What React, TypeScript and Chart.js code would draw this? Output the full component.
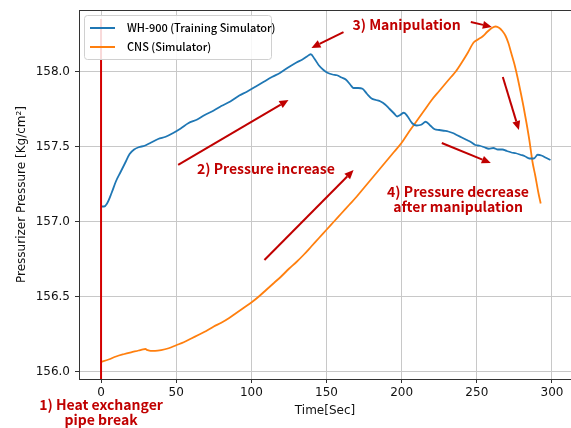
import { useEffect, useRef } from "react";
import { Chart, registerables } from "chart.js";

Chart.register(...registerables);

// ---------- data ----------
const seriesNames = ["WH-900 (Training Simulator)", "CNS (Simulator)"];

const timeBlue = [
  0, 2, 4, 7, 10, 13, 16, 19, 22, 25, 29, 33, 38, 43, 48, 53, 58, 64, 69, 75,
  80, 86, 92, 97, 103, 108, 114, 119, 125, 130, 134, 137, 139.5, 142, 145, 148,
  151, 154, 157, 160, 163, 166, 168, 171, 174, 177, 180, 183, 186, 189, 192,
  195, 197, 199, 201.5, 204, 207, 210, 213, 216, 219, 222, 225, 228, 231, 234,
  237, 240, 243, 246, 249, 252, 255, 258, 261, 264, 267, 270, 273, 276, 279,
  282, 285, 288, 290.5, 293, 296, 299,
];
const pressureBlue = [
  157.1, 157.1, 157.12, 157.19, 157.27, 157.33, 157.39, 157.45, 157.48, 157.495,
  157.505, 157.525, 157.55, 157.565, 157.59, 157.62, 157.655, 157.68, 157.71,
  157.74, 157.77, 157.8, 157.84, 157.865, 157.9, 157.93, 157.965, 157.99,
  158.03, 158.06, 158.08, 158.1, 158.115, 158.085, 158.04, 158.01, 157.99,
  157.98, 157.975, 157.96, 157.945, 157.91, 157.89, 157.89, 157.885, 157.85,
  157.82, 157.81, 157.8, 157.78, 157.75, 157.72, 157.7, 157.71, 157.725, 157.7,
  157.655, 157.64, 157.645, 157.665, 157.64, 157.615, 157.61, 157.605, 157.6,
  157.59, 157.575, 157.56, 157.545, 157.53, 157.51, 157.505, 157.495, 157.485,
  157.49, 157.48, 157.48, 157.47, 157.46, 157.455, 157.445, 157.435, 157.42,
  157.42, 157.445, 157.44, 157.425, 157.41,
];

const timeOrange = [
  0, 5, 10, 15, 20, 25, 28, 29.5, 31, 33, 36, 40, 45, 50, 55, 60, 65, 70, 75,
  80, 85, 90, 95, 100, 105, 110, 115, 120, 125, 130, 135, 140, 145, 150, 155,
  160, 165, 170, 175, 180, 185, 190, 195, 200, 205, 210, 215, 220, 225, 230,
  233, 236, 240, 244, 248, 251, 254, 257, 260, 262.5, 265, 267, 269, 271, 273,
  275, 277, 279, 281, 283, 285, 287, 289, 291, 292.5,
];
const pressureOrange = [
  156.065, 156.08, 156.1, 156.115, 156.128, 156.14, 156.148, 156.15, 156.142,
  156.137, 156.137, 156.142, 156.155, 156.175, 156.195, 156.22, 156.245, 156.27,
  156.3, 156.325, 156.355, 156.39, 156.425, 156.46, 156.5, 156.545, 156.59,
  156.635, 156.685, 156.73, 156.78, 156.835, 156.89, 156.945, 157.0, 157.055,
  157.11, 157.165, 157.225, 157.285, 157.345, 157.405, 157.465, 157.525, 157.6,
  157.67, 157.74, 157.81, 157.87, 157.93, 157.965, 158.0, 158.06, 158.125,
  158.195, 158.215, 158.235, 158.265, 158.29, 158.3, 158.29, 158.27, 158.24,
  158.19, 158.12, 158.05, 157.965, 157.87, 157.77, 157.66, 157.54, 157.4, 157.3,
  157.19, 157.12,
];

const breakTime = [0, 0];
const breakPressure = [155.95, 158.35];

const xTicks = [0, 50, 100, 150, 200, 250, 300];
const yTicks = [156.0, 156.5, 157.0, 157.5, 158.0];

const xLabel = "Time[Sec]";
const yLabel = "Pressurizer Pressure [Kg/cm²]";

// annotations in data coordinates
const noteTexts = [
  ["1) Heat exchanger", "pipe break"],
  ["2) Pressure increase"],
  ["3) Manipulation"],
  ["4) Pressure decrease", "after manipulation"],
];
const noteX = [0, 109.7, 203.3, 237.5];
const noteY = [155.78, 157.35, 158.31, 157.2];

const arrowFrom = [
  [51.3, 157.377],
  [108.7, 156.743],
  [161.3, 158.263],
  [246, 158.33],
  [267.3, 157.963],
  [226.7, 157.523],
];
const arrowTo = [
  [124.7, 157.81],
  [168, 157.343],
  [140, 158.157],
  [260, 158.297],
  [278, 157.61],
  [259.3, 157.39],
];

// ---------- styles ----------
const BLUE = "#1f77b4";
const ORANGE = "#ff7f0e";
const RED_LINE = "#d40000";
const NOTE_RED = "#c00000";
const AXIS_FONT = "DejaVu Sans";
const NOTE_FONT = "'Noto Sans CJK KR', 'Noto Sans', sans-serif";

function drawArrow(ctx: CanvasRenderingContext2D, x1: number, y1: number, x2: number, y2: number) {
  const ang = Math.atan2(y2 - y1, x2 - x1);
  const head = 9;
  const half = 4;
  const bx = x2 - head * Math.cos(ang);
  const by = y2 - head * Math.sin(ang);
  ctx.beginPath();
  ctx.moveTo(x1, y1);
  ctx.lineTo(bx, by);
  ctx.stroke();
  ctx.beginPath();
  ctx.moveTo(x2, y2);
  ctx.lineTo(bx + half * Math.sin(ang), by - half * Math.cos(ang));
  ctx.lineTo(bx - half * Math.sin(ang), by + half * Math.cos(ang));
  ctx.closePath();
  ctx.fill();
}

const overlayPlugin = {
  id: "overlay",
  afterDraw(chart: any) {
    const { ctx, chartArea: a, scales } = chart;
    const xs = scales.x;
    const ys = scales.y;
    ctx.save();
    // top spine
    ctx.strokeStyle = "#333333";
    ctx.lineWidth = 1;
    ctx.beginPath();
    ctx.moveTo(a.left, Math.round(a.top) + 0.5);
    ctx.lineTo(a.right, Math.round(a.top) + 0.5);
    ctx.stroke();

    // arrows
    ctx.strokeStyle = NOTE_RED;
    ctx.fillStyle = NOTE_RED;
    ctx.lineWidth = 2;
    for (let i = 0; i < arrowFrom.length; i++) {
      drawArrow(
        ctx,
        xs.getPixelForValue(arrowFrom[i][0]),
        ys.getPixelForValue(arrowFrom[i][1]),
        xs.getPixelForValue(arrowTo[i][0]),
        ys.getPixelForValue(arrowTo[i][1])
      );
    }

    // notes
    ctx.font = `bold 14px ${NOTE_FONT}`;
    ctx.textAlign = "center";
    ctx.textBaseline = "middle";
    ctx.fillStyle = NOTE_RED;
    for (let i = 0; i < noteTexts.length; i++) {
      const cx = xs.getPixelForValue(noteX[i]);
      const cy = ys.getPixelForValue(noteY[i]);
      noteTexts[i].forEach((t, j) => ctx.fillText(t, cx, cy + j * 15.5));
    }

    // legend
    const lx = a.left + 5;
    const ly = a.top + 5;
    const lw = 187;
    const lh = 44;
    ctx.beginPath();
    ctx.roundRect(lx + 0.5, ly + 0.5, lw, lh, 3);
    ctx.fillStyle = "rgba(255,255,255,0.85)";
    ctx.fill();
    ctx.strokeStyle = "#d0d0d0";
    ctx.lineWidth = 1;
    ctx.stroke();
    const colors = [BLUE, ORANGE];
    ctx.font = `500 11px ${NOTE_FONT}`;
    ctx.textAlign = "left";
    ctx.textBaseline = "middle";
    seriesNames.forEach((name, i) => {
      const yy = ly + 13 + i * 19;
      ctx.strokeStyle = colors[i];
      ctx.lineWidth = 2;
      ctx.beginPath();
      ctx.moveTo(lx + 6, yy);
      ctx.lineTo(lx + 31, yy);
      ctx.stroke();
      ctx.fillStyle = "#000";
      ctx.fillText(name, lx + 43, yy);
    });
    ctx.restore();
  },
};

export default function App() {
  const ref = useRef<HTMLCanvasElement | null>(null);
  useEffect(() => {
    if (!ref.current) return;
    const chart = new Chart(ref.current, {
      type: "line",
      data: {
        datasets: [
          {
            label: "break",
            data: breakTime.map((t, i) => ({ x: t, y: breakPressure[i] })),
            borderColor: RED_LINE,
            borderWidth: 2,
            pointRadius: 0,
          },
          {
            label: seriesNames[0],
            data: timeBlue.map((t, i) => ({ x: t, y: pressureBlue[i] })),
            borderColor: BLUE,
            borderWidth: 1.8,
            pointRadius: 0,
            cubicInterpolationMode: "monotone",
          },
          {
            label: seriesNames[1],
            data: timeOrange.map((t, i) => ({ x: t, y: pressureOrange[i] })),
            borderColor: ORANGE,
            borderWidth: 1.8,
            pointRadius: 0,
            cubicInterpolationMode: "monotone",
          },
        ],
      },
      options: {
        animation: false,
        responsive: false,
        events: [],
        layout: { padding: { top: 10, left: 0, right: 0, bottom: 0 } },
        plugins: { legend: { display: false }, tooltip: { enabled: false } },
        scales: {
          x: {
            type: "linear",
            min: -14.667,
            max: 312.667,
            afterBuildTicks: (s: any) => {
              s.ticks = xTicks.map((v) => ({ value: v }));
            },
            afterFit: (s: any) => {
              s.height = 49;
              s.paddingLeft = 0;
              s.paddingRight = 0;
            },
            grid: { color: "#c8c8c8", lineWidth: 1, tickColor: "#333333", tickLength: 4 },
            border: { display: true, color: "#333333", width: 1 },
            ticks: {
              font: { family: AXIS_FONT, size: 12 },
              color: "#111",
              padding: 3,
              maxRotation: 0,
              callback: (v: any) => String(v),
            },
            title: {
              display: true,
              text: xLabel,
              font: { family: AXIS_FONT, size: 12 },
              color: "#111",
              padding: { top: 0, bottom: 9.8 },
            },
          },
          y: {
            type: "linear",
            min: 155.95,
            max: 158.41,
            afterBuildTicks: (s: any) => {
              s.ticks = yTicks.map((v) => ({ value: v }));
            },
            afterFit: (s: any) => {
              s.width = 79;
              s.paddingTop = 0;
              s.paddingBottom = 0;
            },
            grid: { color: "#c8c8c8", lineWidth: 1, tickColor: "#333333", tickLength: 4 },
            border: { display: true, color: "#333333", width: 1 },
            ticks: {
              font: { family: AXIS_FONT, size: 12 },
              color: "#111",
              padding: 5,
              callback: (v: any) => Number(v).toFixed(1),
            },
            title: {
              display: true,
              text: yLabel,
              font: { family: AXIS_FONT, size: 12 },
              color: "#111",
              padding: { top: 14.8, bottom: 0 },
            },
          },
        },
      },
      plugins: [overlayPlugin],
    } as any);
    return () => chart.destroy();
  }, []);
  return (
    <div style={{ position: "absolute", left: 0, top: 0, width: 571, height: 428 }}>
      <canvas ref={ref} width={571} height={428} style={{ display: "block" }} />
    </div>
  );
}
